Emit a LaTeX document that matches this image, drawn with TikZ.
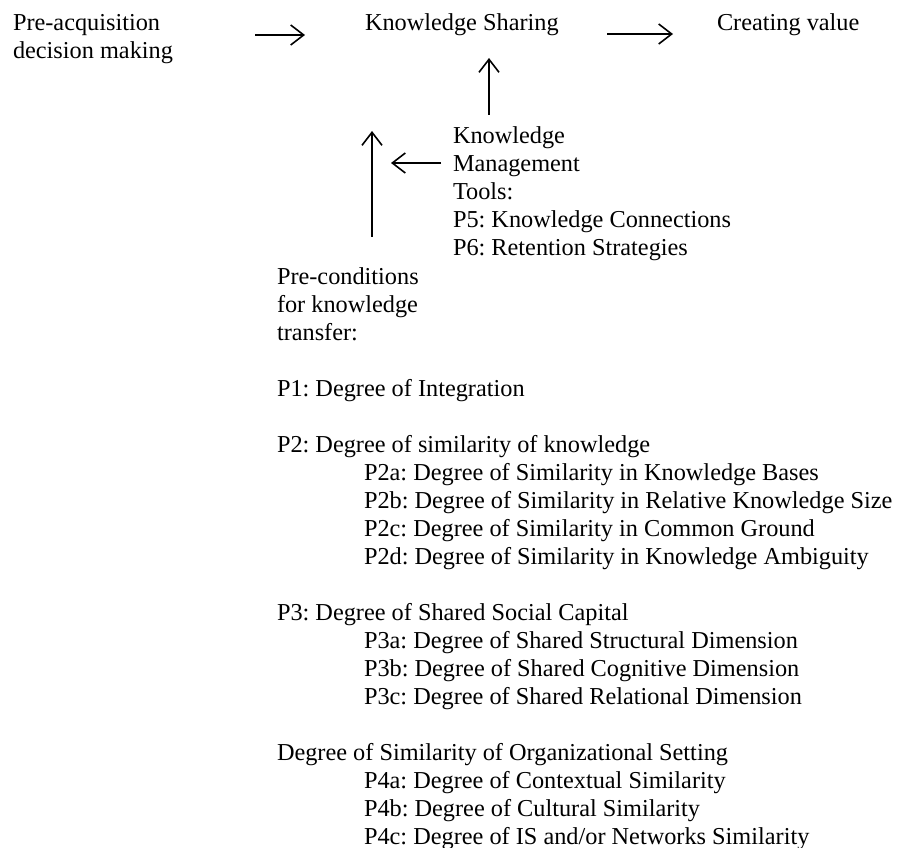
\documentclass[tikz,border=0pt]{standalone}
\usepackage{fontspec}
\setmainfont{Liberation Serif}
\usetikzlibrary{arrows.meta}
\frenchspacing
\tikzset{
  txt/.style={anchor=base west, inner sep=0pt, outer sep=0pt, align=left,
    font=\fontsize{24.3}{28}\selectfont\frenchspacing},
  arr/.style={line width=1.6pt, -{Straight Barb[length=13pt,width=20pt,line width=1.6pt]}}
}
\begin{document}
\begin{tikzpicture}[x=1pt,y=-1pt]
\useasboundingbox (0,0) rectangle (898,848);
% top row (multi-line nodes are placed by the baseline of their last line)
\node[txt] (pre) at (13,59) {Pre-acquisition\\decision making};
\node[txt] (ks) at (365,31) {Knowledge Sharing};
\node[txt] (cv) at (717,31) {Creating value};
% knowledge management tools
\node[txt] (kmt) at (453,255) {Knowledge\\Management\\Tools:\\P5: Knowledge Connections\\P6: Retention Strategies};
% pre-conditions
\node[txt] (pc) at (277,340) {Pre-conditions\\for knowledge\\transfer:};
\node[txt] (p1) at (277,396) {P1: Degree of Integration};
\node[txt] (p2) at (277,452) {P2: Degree of similarity of knowledge};
\node[txt] (p2s) at (364,564) {P2a: Degree of Similarity in Knowledge Bases\\P2b: Degree of Similarity in Relative Knowledge Size\\P2c: Degree of Similarity in Common Ground\\P2d: Degree of Similarity in Knowledge Ambiguity};
\node[txt] (p3) at (277,620) {P3: Degree of Shared Social Capital};
\node[txt] (p3s) at (364,704) {P3a: Degree of Shared Structural Dimension\\P3b: Degree of Shared Cognitive Dimension\\P3c: Degree of Shared Relational Dimension};
\node[txt] (p4) at (277,760) {Degree of Similarity of Organizational Setting};
\node[txt] (p4s) at (364,844) {P4a: Degree of Contextual Similarity\\P4b: Degree of Cultural Similarity\\P4c: Degree of IS and/or Networks Similarity};
% arrow end points
\coordinate (a1s) at (255,35);
\coordinate (a1e) at (305,35);
\coordinate (a2s) at (607,34);
\coordinate (a2e) at (673,34);
\coordinate (a3s) at (489,115);
\coordinate (a3e) at (489,58);
\coordinate (a4s) at (441,163);
\coordinate (a4e) at (391,163);
\coordinate (a5s) at (372,237);
\coordinate (a5e) at (372,131);
\draw[arr] (a1s) -- (a1e);
\draw[arr] (a2s) -- (a2e);
\draw[arr] (a3s) -- (a3e);
\draw[arr] (a4s) -- (a4e);
\draw[arr] (a5s) -- (a5e);
\end{tikzpicture}
\end{document}
